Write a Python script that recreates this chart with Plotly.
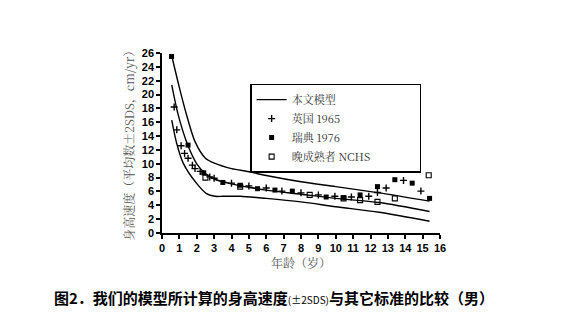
import plotly.graph_objects as go

# Model curves (mean and ±2SDS)
model_x = [0.56, 0.94, 1.5, 2.0, 2.5, 3.0, 4.0, 5.0, 6.0, 8.0, 10.0, 12.5, 15.4]
model_mean = [21.4, 17.0, 12.6, 10.0, 8.6, 7.8, 7.1, 6.6, 6.2, 5.6, 5.0, 4.4, 3.1]
upper_x = [0.56, 1.0, 1.42, 1.9, 2.5, 3.05, 4.0, 5.0, 6.0, 8.0, 10.0, 12.5, 15.4]
upper_y = [25.6, 21.0, 17.0, 13.2, 10.8, 10.05, 9.3, 8.85, 8.3, 7.4, 6.7, 5.8, 4.6]
lower_x = [0.56, 0.84, 1.22, 1.98, 2.56, 3.05, 3.5, 4.5, 6.0, 8.0, 10.0, 12.5, 15.4]
lower_y = [16.3, 13.0, 10.1, 7.2, 5.7, 5.3, 5.3, 5.3, 5.0, 4.5, 3.8, 3.0, 1.7]

# UK 1965
uk_x = [0.7, 0.85, 1.1, 1.3, 1.5, 1.75, 1.9, 2.2, 2.75, 3.0, 4.0, 5.0, 6.0, 6.9, 8.0, 9.0,
        9.95, 10.9, 11.9, 12.4, 12.9, 13.9, 14.9]
uk_y = [18.2, 14.9, 12.6, 11.5, 10.8, 9.8, 9.3, 8.9, 8.1, 7.9, 7.2, 6.8, 6.5, 6.05, 5.8, 5.5,
        5.3, 5.2, 5.3, 5.85, 6.5, 7.6, 6.05]

# Sweden 1976
se_x = [0.55, 1.5, 2.4, 3.5, 4.5, 5.5, 6.5, 7.5, 9.45, 10.45, 11.4, 12.4, 13.4, 14.4, 15.4]
se_y = [25.5, 12.7, 8.7, 7.3, 6.9, 6.4, 6.2, 6.05, 5.2, 5.1, 5.5, 6.7, 7.7, 7.2, 5.0]

# NCHS late maturers
nchs_x = [2.5, 4.5, 8.5, 10.45, 11.4, 12.4, 13.4, 15.35]
nchs_y = [8.0, 6.7, 5.5, 5.0, 4.75, 4.5, 5.0, 8.35]

x_ticks = list(range(0, 17))
y_ticks = list(range(0, 27, 2))

serif = "Noto Serif CJK SC, Noto Sans CJK SC, serif"
line_style = dict(color="black", width=1.4, shape="spline", smoothing=0.8)

fig = go.Figure()
fig.add_trace(go.Scatter(x=model_x, y=model_mean, mode="lines", line=line_style,
                         name="本文模型"))
fig.add_trace(go.Scatter(x=upper_x, y=upper_y, mode="lines", line=line_style,
                         showlegend=False))
fig.add_trace(go.Scatter(x=lower_x, y=lower_y, mode="lines", line=line_style,
                         showlegend=False))
fig.add_trace(go.Scatter(x=uk_x, y=uk_y, mode="markers", name="英国 1965",
                         marker=dict(symbol="cross-thin", size=5, color="black",
                                     line=dict(color="black", width=1.4))))
fig.add_trace(go.Scatter(x=se_x, y=se_y, mode="markers", name="瑞典 1976",
                         marker=dict(symbol="square", size=5, color="black")))
fig.add_trace(go.Scatter(x=nchs_x, y=nchs_y, mode="markers",
                         name="晚成熟者 NCHS\u2003\u2003\u2003\u2003",
                         marker=dict(symbol="square-open", size=5, color="black",
                                     line=dict(width=1.1))))

axis_common = dict(showgrid=False, zeroline=False, showline=True, linecolor="black",
                   linewidth=1.5, ticks="outside", ticklen=4, tickwidth=1.5,
                   tickcolor="black",
                   tickfont=dict(family="Liberation Sans, Arial", size=11, color="black",
                                 weight="bold"))

fig.update_layout(
    width=568, height=333,
    margin=dict(l=162, r=128, t=53, b=100),
    paper_bgcolor="white", plot_bgcolor="white",
    xaxis=dict(range=[0, 16], tickvals=x_ticks, **axis_common),
    yaxis=dict(range=[0, 26], tickvals=y_ticks, **axis_common),
    showlegend=True,
    legend=dict(x=0.317, y=0.83, xanchor="left", yanchor="top",
                bordercolor="black", borderwidth=1.5, bgcolor="white",
                font=dict(family=serif, size=11, color="#333333"),
                itemwidth=30, tracegroupgap=0),
    annotations=[
        dict(text="身高速度（平均数±2SDS，cm/yr）", xref="paper", yref="paper",
             x=-0.12, y=0.5, textangle=-90, showarrow=False,
             font=dict(family=serif, size=12, color="#555555"),
             xanchor="center", yanchor="middle"),
        dict(text="年龄（岁）", xref="paper", yref="paper", x=0.5, y=-0.165,
             showarrow=False, font=dict(family=serif, size=12, color="#555555"),
             xanchor="center", yanchor="middle"),
        dict(text="<b>图2．我们的模型所计算的身高速度</b><span style='font-size:10px'>(±2SDS)</span><b>与其它标准的比较（男）</b>",
             xref="paper", yref="paper", x=0.403, y=-0.36, showarrow=False,
             font=dict(family="Noto Sans CJK SC", size=15, color="black"),
             xanchor="center", yanchor="middle"),
    ],
)

fig.write_html("out.html")
